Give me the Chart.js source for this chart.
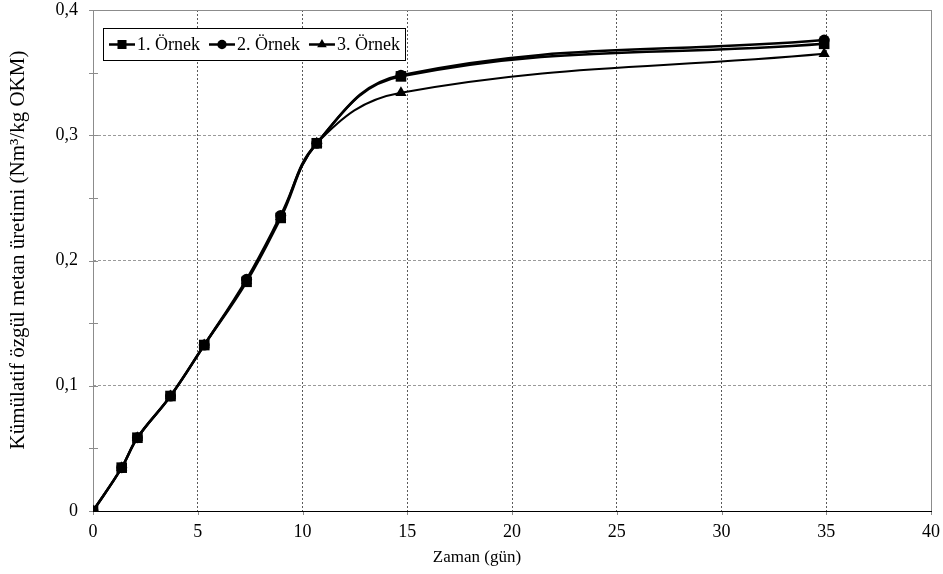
<!DOCTYPE html>
<html>
<head>
<meta charset="utf-8">
<script src="https://cdn.jsdelivr.net/npm/chart.js@4.4.1/dist/chart.umd.min.js"></script>
<style>
  html, body { margin: 0; padding: 0; background: #fff; }
  #wrap { width: 943px; height: 574px; }
</style>
</head>
<body>
<div id="wrap"><canvas id="chart" width="943" height="574"></canvas></div>
<script>
// data
const days = [0, 1.37, 2.12, 3.7, 5.31, 7.33, 8.96, 10.68, 14.7, 34.9];
const sample1 = [0, 0.0346, 0.0585, 0.0918, 0.1325, 0.183, 0.234, 0.2936, 0.347, 0.373];
const sample2 = [0, 0.0346, 0.0585, 0.0918, 0.1325, 0.185, 0.236, 0.2936, 0.348, 0.376];
const sample3 = [0, 0.0346, 0.0585, 0.0918, 0.1325, 0.184, 0.235, 0.2936, 0.334, 0.365];
const seriesNames = ["1. Örnek", "2. Örnek", "3. Örnek"];
const yTickLabels = ["0", "0,1", "0,2", "0,3", "0,4"];
const xTitle = "Zaman (gün)";
const yTitle = "Kümülatif özgül metan üretimi (Nm³/kg OKM)";

const FONT = "'Liberation Serif', 'Times New Roman', serif";
const FS = 18;

function toPoints(ys) {
  return days.map((d, i) => ({ x: d, y: ys[i] }));
}

// frame, small ticks, axis titles and the legend box inside the plot
const decorPlugin = {
  id: "decor",
  beforeDatasetsDraw(chart) {
    const { ctx, chartArea: a, scales } = chart;
    ctx.save();
    ctx.strokeStyle = "#8c8c8c";
    ctx.lineWidth = 1;
    ctx.strokeRect(a.left + 0.5, a.top + 0.5, a.right - a.left, a.bottom - a.top);
    // y ticks every 0.05, crossing the axis
    for (let v = 0; v <= 0.4001; v += 0.05) {
      const y = Math.round(scales.y.getPixelForValue(v)) + 0.5;
      ctx.beginPath();
      ctx.moveTo(a.left - 4, y);
      ctx.lineTo(a.left + 5, y);
      ctx.stroke();
    }
    // x ticks below the axis
    scales.x.ticks.forEach(t => {
      const x = Math.round(scales.x.getPixelForValue(t.value)) + 0.5;
      ctx.beginPath();
      ctx.moveTo(x, a.bottom);
      ctx.lineTo(x, a.bottom + 4);
      ctx.stroke();
    });
    // black bottom axis
    ctx.strokeStyle = "#000";
    ctx.beginPath();
    ctx.moveTo(a.left, a.bottom + 0.5);
    ctx.lineTo(a.right + 1, a.bottom + 0.5);
    ctx.stroke();
    ctx.restore();
  },
  afterDraw(chart) {
    const { ctx } = chart;
    ctx.save();
    ctx.fillStyle = "#000";
    ctx.textAlign = "center";
    ctx.textBaseline = "middle";
    // x title
    ctx.font = "17px " + FONT;
    ctx.fillText(xTitle, 477, 558);
    // y title
    ctx.save();
    ctx.translate(18, 250);
    ctx.rotate(-Math.PI / 2);
    ctx.font = "21px " + FONT;
    ctx.fillText(yTitle, 0, 0);
    ctx.restore();

    // legend
    ctx.font = FS + "px " + FONT;
    const bx = 103.5, by = 28.5, bw = 302, bh = 32;
    ctx.fillStyle = "#fff";
    ctx.fillRect(bx, by, bw, bh);
    ctx.strokeStyle = "#000";
    ctx.lineWidth = 1;
    ctx.strokeRect(bx, by, bw, bh);
    const cy = by + bh / 2;
    let x = 109;
    ctx.textAlign = "left";
    chart.data.datasets.forEach(ds => {
      ctx.strokeStyle = "#000";
      ctx.lineWidth = 2.5;
      ctx.beginPath();
      ctx.moveTo(x, cy);
      ctx.lineTo(x + 26, cy);
      ctx.stroke();
      ctx.fillStyle = "#000";
      Chart.helpers.drawPoint(ctx, { pointStyle: ds.pointStyle, radius: ds.pointRadius * 0.85, rotation: 0, borderWidth: 0 }, x + 13, cy);
      ctx.fillStyle = "#000";
      ctx.fillText(ds.label, x + 28, cy + 1);
      x += 28 + ctx.measureText(ds.label).width + 9;
    });
    ctx.restore();
  }
};

const common = {
  borderColor: "#000",
  backgroundColor: "#000",
  pointBorderColor: "#000",
  pointBackgroundColor: "#000",
  borderWidth: 2.5,
  pointBorderWidth: 0,
  tension: 0.4,
  fill: false
};

new Chart(document.getElementById("chart"), {
  type: "line",
  data: {
    datasets: [
      { ...common, label: seriesNames[0], data: toPoints(sample1), pointStyle: "rect", pointRadius: 7.5, order: 1 },
      { ...common, label: seriesNames[1], data: toPoints(sample2), pointStyle: "circle", pointRadius: 5.5, order: 2 },
      { ...common, label: seriesNames[2], data: toPoints(sample3), pointStyle: "triangle", pointRadius: 6.5, borderWidth: 2, order: 3 }
    ]
  },
  options: {
    responsive: false,
    animation: false,
    layout: { padding: { top: 10, right: 12, left: 0, bottom: 0 } },
    plugins: {
      legend: { display: false },
      tooltip: { enabled: false }
    },
    scales: {
      x: {
        type: "linear",
        min: 0,
        max: 40,
        ticks: { stepSize: 5, color: "#000", font: { family: FONT, size: FS }, padding: 0, maxRotation: 0 },
        grid: { color: "#5a5a5a", lineWidth: 1, drawTicks: true, tickLength: 10, tickColor: "rgba(0,0,0,0)" },
        border: { display: false, dash: [2, 2] },
        afterFit: s => { s.height = 63; }
      },
      y: {
        min: 0,
        max: 0.4,
        ticks: {
          stepSize: 0.1,
          color: "#000",
          font: { family: FONT, size: FS, lineHeight: 1 },
          padding: 1,
          callback: (v, i) => yTickLabels[i]
        },
        grid: { color: "#9a9a9a", lineWidth: 1, drawTicks: true, tickLength: 14, tickColor: "rgba(0,0,0,0)" },
        border: { display: false, dash: [3, 2] },
        afterFit: s => { s.width = 93; }
      }
    }
  },
  plugins: [decorPlugin]
});
</script>
</body>
</html>
